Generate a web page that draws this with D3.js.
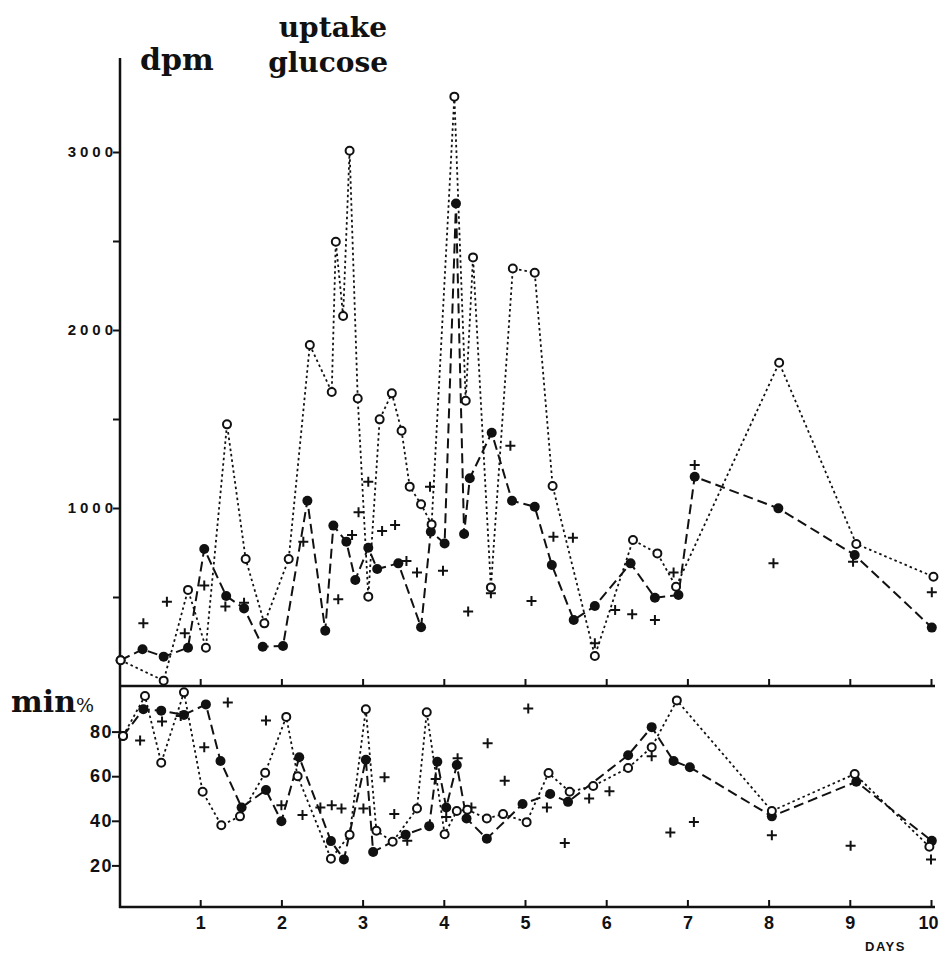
<!DOCTYPE html>
<html>
<head>
<meta charset="utf-8">
<script src="https://cdn.jsdelivr.net/npm/d3@7"></script>
<style>
  body { margin: 0; background: #fff; }
  svg { display: block; }
  .title { font-family: "DejaVu Serif", "Liberation Serif", serif; font-weight: bold; fill: #111; }
  .tick-label { font-family: "Liberation Sans", Arial, sans-serif; font-weight: bold; fill: #111; }
</style>
</head>
<body>
<svg id="chart" width="940" height="953"></svg>
<script>
// ---- data: [day, value] ----
// upper panel: glucose uptake, dpm
var topOpen = [[0.02,145],[0.55,30],[0.85,540],[1.07,215],[1.33,1470],[1.56,713],[1.79,352],
  [2.09,713],[2.35,1916],[2.62,1652],[2.67,2496],[2.76,2079],[2.84,3007],[2.94,1615],[3.07,502],
  [3.21,1498],[3.36,1644],[3.48,1434],[3.58,1120],[3.72,1021],[3.85,908],[4.13,3311],[4.27,1603],
  [4.36,2408],[4.58,554],[4.85,2346],[5.12,2322],[5.34,1124],[5.86,169],[6.33,820],[6.63,745],
  [6.86,558],[8.13,1816],[9.08,798],[10.03,614]];
var topFilled = [[0.02,145],[0.29,206],[0.55,165],[0.85,215],[1.05,770],[1.32,506],[1.54,436],
  [1.77,221],[2.02,225],[2.32,1041],[2.54,311],[2.64,901],[2.80,811],[2.91,596],[3.07,777],
  [3.18,657],[3.44,689],[3.72,330],[3.84,867],[4.01,801],[4.15,2711],[4.25,854],[4.32,1167],
  [4.59,1423],[4.84,1041],[5.12,1007],[5.33,680],[5.60,371],[5.86,449],[6.30,689],[6.60,496],
  [6.89,511],[7.09,1176],[8.12,998],[9.06,736],[10.01,328]];
var topPlus = [[0.30,352],[0.59,474],[0.81,296],[1.05,564],[1.31,446],[1.54,468],[2.27,811],
  [2.70,487],[2.87,848],[2.95,976],[3.07,1148],[3.24,871],[3.40,904],[3.54,702],[3.67,637],
  [3.83,1120],[3.99,648],[4.30,418],[4.58,521],[4.82,1350],[5.08,478],[5.35,839],[5.59,833],
  [5.86,240],[6.11,427],[6.32,403],[6.60,371],[6.83,637],[7.09,1242],[8.06,689],[9.04,698],
  [10.01,526]];

// lower panel: min %
var botOpen = [[0.05,78],[0.32,96],[0.52,66],[0.80,97.6],[1.03,53],[1.26,38],[1.49,42],[1.80,61.5],
  [2.06,86.6],[2.20,60],[2.61,23],[2.84,33.7],[3.04,90],[3.17,35.5],[3.37,30.6],[3.67,45.5],
  [3.79,88.7],[4.01,34],[4.16,44.4],[4.29,45],[4.53,41],[4.73,43],[5.02,39.4],[5.29,61.4],
  [5.55,53],[5.84,55.6],[6.27,63.7],[6.56,73],[6.87,94],[8.04,44.4],[9.06,61],[9.98,28.4]];
var botFilled = [[0.05,78],[0.30,90],[0.52,89.4],[0.80,87.5],[1.07,92.2],[1.25,66.8],[1.51,46],
  [1.81,53.8],[2.00,39.8],[2.22,68.5],[2.61,30.9],[2.77,22.7],[3.04,67.4],[3.13,26],[3.53,33.8],
  [3.82,37.6],[3.92,66.5],[4.03,46],[4.16,65],[4.28,41],[4.53,32],[4.97,47.5],[5.31,52],
  [5.53,48.5],[6.27,69.4],[6.56,82],[6.83,66.8],[7.03,64],[8.04,42],[9.08,57.5],[10.01,31]];
var botPlus = [[0.26,76],[0.53,84.5],[0.76,87],[1.05,73],[1.34,93],[1.81,85],[2.00,47],[2.26,42.6],
  [2.48,46],[2.62,47],[2.74,45.5],[3.01,45.5],[3.27,59.5],[3.39,43],[3.55,31],[3.90,58.8],
  [4.03,41.7],[4.17,68],[4.34,46],[4.54,74.8],[4.75,58],[5.04,90.4],[5.27,46],[5.49,30],
  [5.79,50],[6.04,53.3],[6.56,69],[6.79,34.8],[7.08,39.5],[8.04,33.5],[9.01,28.8],[10.0,22.6]];

var dayTicks = [1,2,3,4,5,6,7,8,9,10];
var topTicks = [500,1000,1500,2000,2500,3000];
var topLabels = [1000,2000,3000];
var botTicks = [20,40,60,80];

var svg = d3.select("#chart");

var x = d3.scaleLinear().domain([0, 10]).range([119, 931]);
var yTop = d3.scaleLinear().domain([0, 3000]).range([686, 152]);
var yBot = d3.scaleLinear().domain([0, 100]).range([910, 687]);

// ---- axes ----
// left spine for both panels
svg.append("line")
  .attr("x1", x(0) + 1).attr("x2", x(0) + 1)
  .attr("y1", yTop(3528)).attr("y2", 908)
  .attr("stroke", "#111").attr("stroke-width", 2.5);

// upper panel y ticks
var gTop = svg.append("g")
  .attr("transform", "translate(" + (x(0) + 1) + ",0)")
  .call(d3.axisLeft(yTop).tickValues(topTicks).tickSize(7)
    .tickFormat(function(d) { return topLabels.indexOf(d) >= 0 ? d : ""; }));
gTop.select(".domain").remove();
gTop.selectAll(".tick line").attr("stroke", "#111").attr("stroke-width", 2);
gTop.selectAll(".tick text").attr("class", "tick-label")
  .style("font-size", "15px").style("letter-spacing", "4px").attr("x", -3);

// lower panel y ticks
var gBot = svg.append("g")
  .attr("transform", "translate(" + (x(0) + 1) + ",0)")
  .call(d3.axisLeft(yBot).tickValues(botTicks).tickSize(8));
gBot.select(".domain").remove();
gBot.selectAll(".tick line").attr("stroke", "#111").attr("stroke-width", 2);
gBot.selectAll(".tick text").attr("class", "tick-label")
  .style("font-size", "18px").style("letter-spacing", "1.5px").attr("x", -7);

// separator line (bottom of upper panel), ticks pointing up
var gMid = svg.append("g")
  .attr("transform", "translate(0," + yTop(0) + ")")
  .call(d3.axisTop(x).tickValues(dayTicks).tickSize(7).tickFormat(""));
gMid.select(".domain").attr("d", "M" + x(0) + ",0H" + (x(10) + 4))
  .attr("stroke", "#111").attr("stroke-width", 2.5);
gMid.selectAll(".tick line").attr("stroke", "#111").attr("stroke-width", 2);

// bottom day axis
var gX = svg.append("g")
  .attr("transform", "translate(0,907)")
  .call(d3.axisTop(x).tickValues(dayTicks).tickSize(7));
gX.select(".domain").attr("d", "M" + x(0) + ",0H" + (x(10) + 4))
  .attr("stroke", "#111").attr("stroke-width", 2.5);
gX.selectAll(".tick line").attr("stroke", "#111").attr("stroke-width", 2);
gX.selectAll(".tick text").attr("class", "tick-label")
  .style("font-size", "18px").attr("y", 22).attr("dy", 0);
// last label sits against the right edge
gX.selectAll(".tick text").filter(function(d) { return d === 10; })
  .attr("text-anchor", "end").attr("x", 7);

// ---- titles ----
svg.append("text").attr("class", "title").attr("x", 140).attr("y", 70)
  .style("font-size", "30px").text("dpm");
svg.append("text").attr("class", "title").attr("x", 387).attr("y", 37)
  .attr("text-anchor", "end").style("font-size", "28px").text("uptake");
svg.append("text").attr("class", "title").attr("x", 388).attr("y", 72)
  .attr("text-anchor", "end").style("font-size", "28px").text("glucose");
var minLab = svg.append("text").attr("class", "title").attr("x", 11).attr("y", 712)
  .style("font-size", "30px");
minLab.append("tspan").text("min");
minLab.append("tspan").style("font-weight", "normal").style("font-size", "19px").text("%");
svg.append("text").attr("class", "tick-label").attr("x", 865).attr("y", 951)
  .style("font-size", "13px").style("letter-spacing", "1.5px").text("DAYS");

// ---- series ----
function drawPanel(y, open, filled, plus) {
  var line = d3.line().x(function(d) { return x(d[0]); }).y(function(d) { return y(d[1]); });
  var g = svg.append("g");

  g.append("path").datum(open).attr("d", line)
    .attr("fill", "none").attr("stroke", "#111").attr("stroke-width", 1.8)
    .attr("stroke-dasharray", "2.5,3");
  g.append("path").datum(filled).attr("d", line)
    .attr("fill", "none").attr("stroke", "#111").attr("stroke-width", 2)
    .attr("stroke-dasharray", "10,5");

  g.selectAll(".plus").data(plus).enter().append("path")
    .attr("class", "plus")
    .attr("d", function(d) {
      var cx = x(d[0]), cy = y(d[1]);
      return "M" + (cx - 5) + "," + cy + "H" + (cx + 5) + "M" + cx + "," + (cy - 5) + "V" + (cy + 5);
    })
    .attr("stroke", "#111").attr("stroke-width", 2);

  g.selectAll(".dot").data(filled).enter().append("circle")
    .attr("class", "dot")
    .attr("cx", function(d) { return x(d[0]); })
    .attr("cy", function(d) { return y(d[1]); })
    .attr("r", 5).attr("fill", "#111");

  g.selectAll(".ring").data(open).enter().append("circle")
    .attr("class", "ring")
    .attr("cx", function(d) { return x(d[0]); })
    .attr("cy", function(d) { return y(d[1]); })
    .attr("r", 4).attr("fill", "#fff").attr("stroke", "#111").attr("stroke-width", 2);
}

drawPanel(yTop, topOpen, topFilled, topPlus);
drawPanel(yBot, botOpen, botFilled, botPlus);
</script>
</body>
</html>
